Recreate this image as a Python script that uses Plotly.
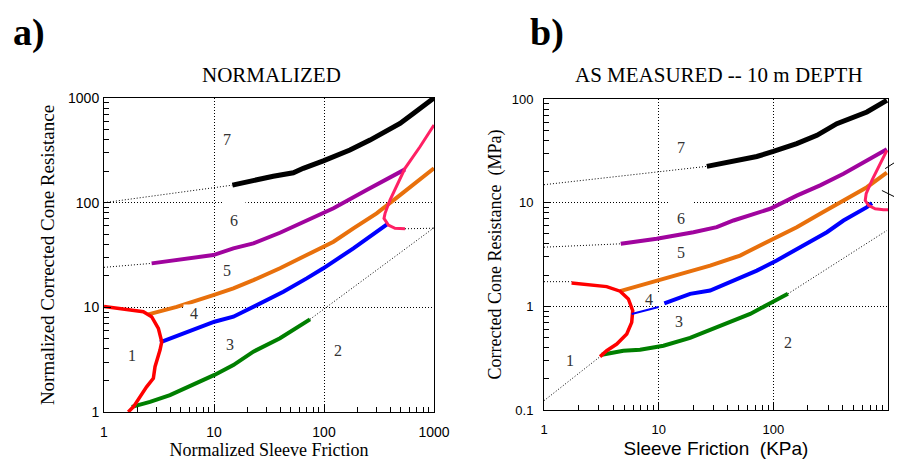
import math
import plotly.graph_objects as go

# ---------------- Panel a) NORMALIZED ----------------
a_black_x = [14.7, 22.8, 34.6, 52.6, 64.8, 98.6, 172, 262, 491, 649, 1000]
a_black_y = [147, 164, 179, 193, 213, 251, 318, 396, 572, 713, 1000]
a_purple_x = [2.71, 9.86, 15.0, 22.8, 39.8, 69.6, 122, 244, 545]
a_purple_y = [26.3, 31.6, 36.6, 40.8, 51.6, 68.2, 88.3, 132, 208]
a_orange_x = [2.53, 4.58, 9.86, 15.0, 22.8, 39.8, 69.6, 122, 185, 301, 491, 1000]
a_orange_y = [8.57, 10.1, 13.1, 15.2, 18.2, 23.6, 31.6, 42.3, 56.9, 79.1, 118, 213]
a_blue_x = [3.23, 5.65, 10.1, 15.0, 22.8, 42.7, 69.6, 98.6, 185, 301, 385]
a_blue_y = [4.63, 5.85, 7.29, 8.13, 10.1, 14.1, 18.9, 23.6, 36.6, 52.7, 63.4]
a_green_x = [1.79, 2.62, 3.98, 6.49, 10.1, 15.0, 22.8, 39.8, 60.5, 74.6]
a_green_y = [1.12, 1.25, 1.45, 1.81, 2.26, 2.81, 3.77, 5.06, 6.78, 7.68]
a_red_x = [1, 1.61, 2.28, 2.71, 3.12, 3.35, 3.23, 2.91, 2.81, 2.44, 2.12, 1.85, 1.66]
a_red_y = [10.2, 9.57, 9.08, 8.13, 6.30, 4.69, 3.91, 2.71, 2.10, 1.74, 1.40, 1.12, 1.0]
a_pink_x = [1000, 746, 545, 458, 398, 359, 351, 385, 442, 545]
a_pink_y = [551, 342, 213, 142, 106, 79.1, 70.8, 61.1, 56.9, 56.3]
# thin dotted boundary extensions
a_dot7_x, a_dot7_y = [1, 14.7], [100, 147]
a_dot6_x, a_dot6_y = [1, 2.71], [24.1, 26.3]
a_dot9_x, a_dot9_y = [545, 1000], [56.3, 57.0]
a_dot2_x, a_dot2_y = [74.6, 1000], [7.68, 57.6]
# zone labels
a_lab_text = ["1", "2", "3", "4", "5", "6", "7", "8", "9"]
a_lab_x = [1.81, 133, 14.0, 6.62, 13.0, 15.3, 13.0, 1303, 1303]
a_lab_y = [3.43, 3.83, 4.43, 8.13, 22.4, 73.3, 402, 285, 98.5]

# ---------------- Panel b) AS MEASURED ----------------
b_black_x = [26.3, 44.9, 71.8, 100, 160, 240, 358, 655, 977]
b_black_y = [22.4, 25.0, 27.9, 31.2, 37.1, 44.6, 57.8, 74.9, 97.1]
b_purple_x = [4.67, 9.62, 20.1, 32.1, 44.9, 93.8, 160, 256, 409, 655, 977]
b_purple_y = [4.01, 4.48, 5.19, 5.80, 6.73, 8.73, 11.7, 14.7, 19.0, 25.6, 32.7]
b_orange_x = [4.61, 9.62, 16.4, 28.1, 51.3, 93.8, 160, 256, 409, 655, 977]
b_orange_y = [1.40, 1.77, 2.08, 2.47, 3.09, 4.31, 5.80, 7.81, 10.5, 14.1, 19.5]
b_blue1_x = [5.82, 7.87, 10.0]
b_blue1_y = [0.845, 0.923, 0.985]
b_blue2_x = [11.2, 18.8, 28.1, 44.9, 71.8, 107, 196, 293, 409, 655, 724]
b_blue2_y = [1.07, 1.32, 1.42, 1.77, 2.21, 2.77, 4.01, 5.19, 6.73, 9.05, 9.89]
b_green_x = [3.19, 4.92, 6.88, 11.0, 18.8, 30.0, 44.9, 62.8, 93.8, 134]
b_green_y = [0.341, 0.373, 0.382, 0.417, 0.496, 0.605, 0.728, 0.845, 1.07, 1.32]
b_red_x = [1.74, 2.52, 3.52, 4.61, 5.44, 5.94, 5.82, 5.27, 4.31, 3.52, 3.08]
b_red_y = [1.68, 1.62, 1.55, 1.40, 1.18, 0.908, 0.700, 0.541, 0.433, 0.373, 0.327]
b_pink_x = [977, 855, 724, 645, 633, 676, 773, 914, 1000]
b_pink_y = [31.9, 23.8, 16.4, 12.2, 10.5, 9.40, 8.73, 8.54, 8.54]
b_dot7_x, b_dot7_y = [1, 26.3], [14.9, 22.4]
b_dot6_x, b_dot6_y = [1, 4.67], [3.72, 4.01]
b_dot4_x, b_dot4_y = [1, 1.74], [1.73, 1.73]
b_dot1_x, b_dot1_y = [1, 3.08], [0.123, 0.327]
b_dot2_x, b_dot2_y = [134, 977], [1.32, 5.39]
b_lead8_x, b_lead8_y = [945, 1156], [21.3, 24.6]
b_lead9_x, b_lead9_y = [885, 1196], [13.1, 11.1]
b_lab_text = ["1", "2", "3", "4", "5", "6", "7", "8"]
b_lab_x = [1.69, 134, 15.1, 8.25, 15.7, 15.7, 15.7, 1180]
b_lab_y = [0.303, 0.443, 0.711, 1.15, 3.28, 7.57, 34.4, 26.0]

x_ticks = [1, 10, 100, 1000]
x_ticktext = ["1", "10", "100", "1000"]
a_y_ticks = [1, 10, 100, 1000]
a_y_ticktext = ["1", "10", "100", "1000"]
b_y_ticks = [0.1, 1, 10, 100]
b_y_ticktext = ["0.1", "1", "10", "100"]

RED = "#FF0000"
ORANGE = "#E8700C"
PURPLE = "#A0049E"
BLUE = "#0000FF"
GREEN = "#007F00"
PINK = "#FF2064"
SERIF = "Liberation Serif"
SANS = "Liberation Sans"
DOT = "1px,2px"

# page body adds an 8px offset; layout numbers below are screen pixels
OFF = 8
SW, SH = 902, 464
W, H = SW - OFF, SH - OFF
L, R, T, B = 104, 888, 98, 412   # plot-area box in screen pixels


def px_x(p):
    return (p - L) / (R - L)


def px_y(p):
    return (B - p) / (B - T)


fig = go.Figure()


def line(x, y, color, width, xa, ya, dash="solid"):
    fig.add_trace(go.Scatter(x=x, y=y, mode="lines", xaxis=xa, yaxis=ya,
                             line=dict(color=color, width=width, dash=dash),
                             showlegend=False, hoverinfo="skip"))


# panel a
for dx, dy in [(a_dot7_x, a_dot7_y), (a_dot6_x, a_dot6_y), (a_dot9_x, a_dot9_y), (a_dot2_x, a_dot2_y)]:
    line(dx, dy, "black", 1, "x", "y", DOT)
line(a_green_x, a_green_y, GREEN, 4, "x", "y")
line(a_blue_x, a_blue_y, BLUE, 4, "x", "y")
line(a_orange_x, a_orange_y, ORANGE, 4, "x", "y")
line(a_purple_x, a_purple_y, PURPLE, 4, "x", "y")
line(a_black_x, a_black_y, "black", 5, "x", "y")
line(a_red_x, a_red_y, RED, 3.5, "x", "y")
line(a_pink_x, a_pink_y, PINK, 3, "x", "y")

# panel b
for dx, dy in [(b_dot7_x, b_dot7_y), (b_dot6_x, b_dot6_y), (b_dot4_x, b_dot4_y),
               (b_dot1_x, b_dot1_y), (b_dot2_x, b_dot2_y)]:
    line(dx, dy, "black", 1, "x2", "y2", DOT)
line(b_green_x, b_green_y, GREEN, 4, "x2", "y2")
line(b_blue2_x, b_blue2_y, BLUE, 4, "x2", "y2")
line(b_orange_x, b_orange_y, ORANGE, 4, "x2", "y2")
line(b_purple_x, b_purple_y, PURPLE, 4, "x2", "y2")
line(b_black_x, b_black_y, "black", 5, "x2", "y2")
line(b_red_x, b_red_y, RED, 3.5, "x2", "y2")
line(b_pink_x, b_pink_y, PINK, 3, "x2", "y2")
line(b_blue1_x, b_blue1_y, BLUE, 2, "x2", "y2")

annotations = []
# labels "4" and "6" carry white boxes that break the gridlines as in the original
a_box = {"4": dict(width=20, height=17, valign="middle", yshift=3),
         "6": dict(width=22, height=32, valign="bottom", yshift=4)}
b_box = {"4": dict(width=20, height=12, valign="middle", yshift=1),
         "6": dict(width=22, height=32, valign="bottom", yshift=4)}
for t, x, y in zip(a_lab_text, a_lab_x, a_lab_y):
    ann = dict(text=t, x=math.log10(x), y=math.log10(y), xref="x", yref="y", showarrow=False,
               xanchor="center", yanchor="middle",
               font=dict(family=SERIF, size=16, color="#333333"))
    if t in a_box:
        ann.update(bgcolor="white", borderpad=0, **a_box[t])
    annotations.append(ann)
for t, x, y in zip(b_lab_text, b_lab_x, b_lab_y):
    ann = dict(text=t, x=math.log10(x), y=math.log10(y), xref="x2", yref="y2", showarrow=False,
               xanchor="center", yanchor="middle",
               font=dict(family=SERIF, size=16, color="#333333"))
    if t in b_box:
        ann.update(bgcolor="white", borderpad=0, **b_box[t])
    annotations.append(ann)

# panel letters (top-anchored so they stay inside the page)
for text, cx, ty in [("<b>a)</b>", 29, 9), ("<b>b)</b>", 547, 9)]:
    annotations.append(dict(text=text, x=px_x(cx), y=px_y(ty), xref="paper", yref="paper",
                            xanchor="center", yanchor="top", showarrow=False,
                            font=dict(family=SERIF, size=38, color="black")))
for text, cx, cy in [("NORMALIZED", 271, 75), ("AS MEASURED -- 10 m DEPTH", 719, 75)]:
    annotations.append(dict(text=text, x=px_x(cx), y=px_y(cy), xref="paper", yref="paper",
                            xanchor="center", yanchor="middle", showarrow=False,
                            font=dict(family=SERIF, size=21, color="black")))

# short leader lines next to panel b's right edge (drawn in axis-domain units, unclipped)
shapes = []
for lx, ly in [(b_lead8_x, b_lead8_y), (b_lead9_x, b_lead9_y)]:
    shapes.append(dict(type="line", xref="x2 domain", yref="y2 domain",
                       x0=math.log10(lx[0]) / 3, y0=(math.log10(ly[0]) + 1) / 3,
                       x1=math.log10(lx[1]) / 3, y1=(math.log10(ly[1]) + 1) / 3,
                       line=dict(color="black", width=1)))


def minor_vals(lo, hi):
    vals = []
    d = lo
    while d < hi * 0.999:
        vals += [d * k for k in range(2, 10)]
        d *= 10
    return vals


def axis(domain, rng, tickvals, ticktext, minor, title, title_font, anchor, standoff,
         tsize=13, lstand=0):
    return dict(type="log", range=rng, domain=domain, anchor=anchor, automargin=False,
                showline=True, linecolor="black", linewidth=1, mirror=True,
                ticks="inside", ticklen=7, tickcolor="black", tickwidth=1,
                tickvals=tickvals, ticktext=ticktext, ticklabelstandoff=lstand,
                tickfont=dict(family=SANS, size=tsize, color="black"),
                showgrid=True, gridcolor="black", griddash=DOT, gridwidth=1,
                zeroline=False,
                minor=dict(tickvals=minor, ticks="inside", ticklen=5,
                           tickcolor="black", showgrid=False),
                title=dict(text=title, font=title_font, standoff=standoff))


fig.update_layout(
    width=W, height=H,
    margin=dict(l=L - OFF, r=SW - R, t=T - OFF, b=SH - B, pad=0),
    paper_bgcolor="white", plot_bgcolor="white", showlegend=False,
    xaxis=axis([0, px_x(434)], [0, 3], x_ticks, x_ticktext, minor_vals(1, 1000),
               "Normalized Sleeve Friction", dict(family=SERIF, size=18, color="black"), "y", 4,
               tsize=14, lstand=7),
    yaxis=axis([0, 1], [0, 3], a_y_ticks, a_y_ticktext, minor_vals(1, 1000),
               "Normalized Corrected Cone Resistance", dict(family=SERIF, size=19, color="black"), "x", 8,
               tsize=14, lstand=1),
    xaxis2=axis([px_x(544), 1], [0, 3], x_ticks, x_ticktext, minor_vals(1, 1000),
                "Sleeve Friction  (KPa)", dict(family=SANS, size=19, color="black"), "y2", 6,
                tsize=13, lstand=7),
    yaxis2=axis([px_y(410), px_y(99)], [-1, 2], b_y_ticks, b_y_ticktext, minor_vals(0.1, 100),
                "Corrected Cone Resistance  (MPa)", dict(family=SERIF, size=18, color="black"), "x2", 5,
                tsize=13, lstand=7),
    annotations=annotations, shapes=shapes,
)

fig.write_html("out.html")
